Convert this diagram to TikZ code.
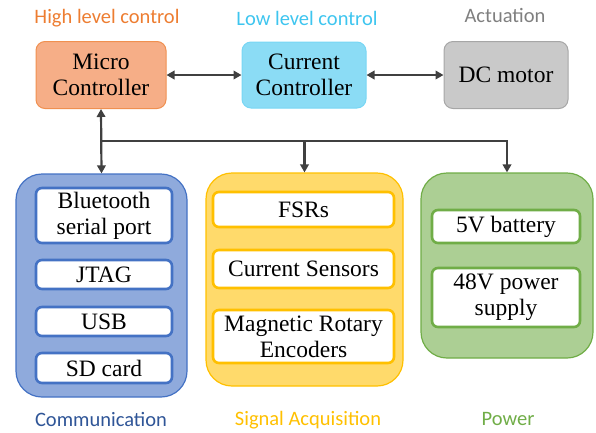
\documentclass[tikz,border=0pt]{standalone}
\usepackage{fontspec}
\setmainfont{Liberation Serif}
\newfontfamily\lblfont{Carlito}
\usetikzlibrary{positioning,arrows.meta}
\definecolor{hlcol}{HTML}{ED7D31}
\definecolor{llcol}{HTML}{3EC5EF}
\definecolor{actcol}{HTML}{7F7F7F}
\definecolor{commcol}{HTML}{4472C4}
\definecolor{commtxt}{HTML}{2F5597}
\definecolor{sigcol}{HTML}{FFC000}
\definecolor{powcol}{HTML}{70AD47}
\definecolor{linecol}{HTML}{404040}
\tikzset{
  box/.style    ={rounded corners=9pt, align=center, inner sep=0pt,
                  font=\fontsize{23.5}{26}\selectfont, line width=1pt},
  hlbox/.style  ={box, fill=hlcol!55!white!95!red, draw=hlcol!85},
  llbox/.style  ={box, fill=llcol!60, draw=llcol!70},
  actbox/.style ={box, fill=black!21, draw=black!35},
  grp/.style    ={rounded corners=26pt, line width=1.2pt},
  commgrp/.style={grp, fill=commcol!60, draw=commcol},
  siggrp/.style ={grp, fill=sigcol!58, draw=sigcol},
  powgrp/.style ={grp, fill=powcol!58, draw=powcol},
  item/.style   ={box, fill=white, line width=2.6pt, rounded corners=6pt},
  commitem/.style={item, draw=commcol, minimum width=136pt},
  sigitem/.style={item, draw=sigcol, minimum width=181pt},
  powitem/.style={item, draw=powcol, minimum width=148pt},
  lbl/.style    ={font=\lblfont\fontsize{20.5}{22}\selectfont, inner sep=0pt},
  fl/.style     ={-{Triangle[length=8pt,width=8.5pt]}, line width=2.2pt, draw=linecol},
  bfl/.style    ={{Triangle[length=8pt,width=8.5pt]}-{Triangle[length=8pt,width=8.5pt]},
                  line width=2.2pt, draw=linecol},
}

\begin{document}
\begin{tikzpicture}[x=1pt,y=-1pt]
  \useasboundingbox (0,0) rectangle (596,432);

  % ---- top row -------------------------------------------------------
  \node[hlbox, minimum width=130pt, minimum height=67pt] (mc) at (101,75)
        {Micro\\Controller};
  \node[llbox, minimum width=124pt, minimum height=66pt] (cc) at (304,75)
        {Current\\Controller};
  \node[actbox, minimum width=124pt, minimum height=67pt] (dc) at (506,75)
        {DC motor};

  \node[lbl, text=hlcol]  (hl)  at (107,18) {High level control};
  \node[lbl, text=llcol]  (ll)  at (307,18) {Low level control};
  \node[lbl, text=actcol] (act) at (505,15) {Actuation};

  \draw[bfl] (mc) -- (cc);
  \draw[bfl] (cc) -- (dc);

  % ---- groups --------------------------------------------------------
  \node[commgrp, minimum width=171pt, minimum height=223pt] (comm) at (101.5,285.5) {};
  \node[siggrp,  minimum width=197pt, minimum height=213pt] (sig)  at (304.5,279.5) {};
  \node[powgrp,  minimum width=172pt, minimum height=185pt] (pow)  at (507,265.5) {};

  \node[commitem, minimum height=55pt] (bt)   at (104,215.5) {Bluetooth\\serial port};
  \node[commitem, minimum height=29pt] (jtag) at (104,274.5) {JTAG};
  \node[commitem, minimum height=29pt] (usb)  at (104,321.5) {USB};
  \node[commitem, minimum height=30pt] (sd)   at (104,368)   {SD card};

  \node[sigitem, minimum height=35pt] (fsr) at (303.5,209.5) {FSRs};
  \node[sigitem, minimum height=38pt] (cs)  at (303.5,269)   {Current Sensors};
  \node[sigitem, minimum height=53pt] (mre) at (303.5,336.5) {Magnetic Rotary\\Encoders};

  \node[powitem, minimum height=33pt] (bat) at (506,226.5) {5V battery};
  \node[powitem, minimum height=59pt] (ps)  at (506,297.5) {48V power\\supply};

  \node[lbl, text=commtxt] (commlbl) at (101,419) {Communication};
  \node[lbl, text=sigcol]  (siglbl)  at (308,420) {Signal Acquisition};
  \node[lbl, text=powcol]  (powlbl)  at (508,419) {Power};

  % ---- bus -----------------------------------------------------------
  \coordinate (jn) at (101,141);
  \draw[bfl] (mc.south) -- (comm.north);
  \draw[fl] (jn) -| (pow.north);
  \draw[fl] (jn -| sig.north) -- (sig.north);
\end{tikzpicture}
\end{document}
